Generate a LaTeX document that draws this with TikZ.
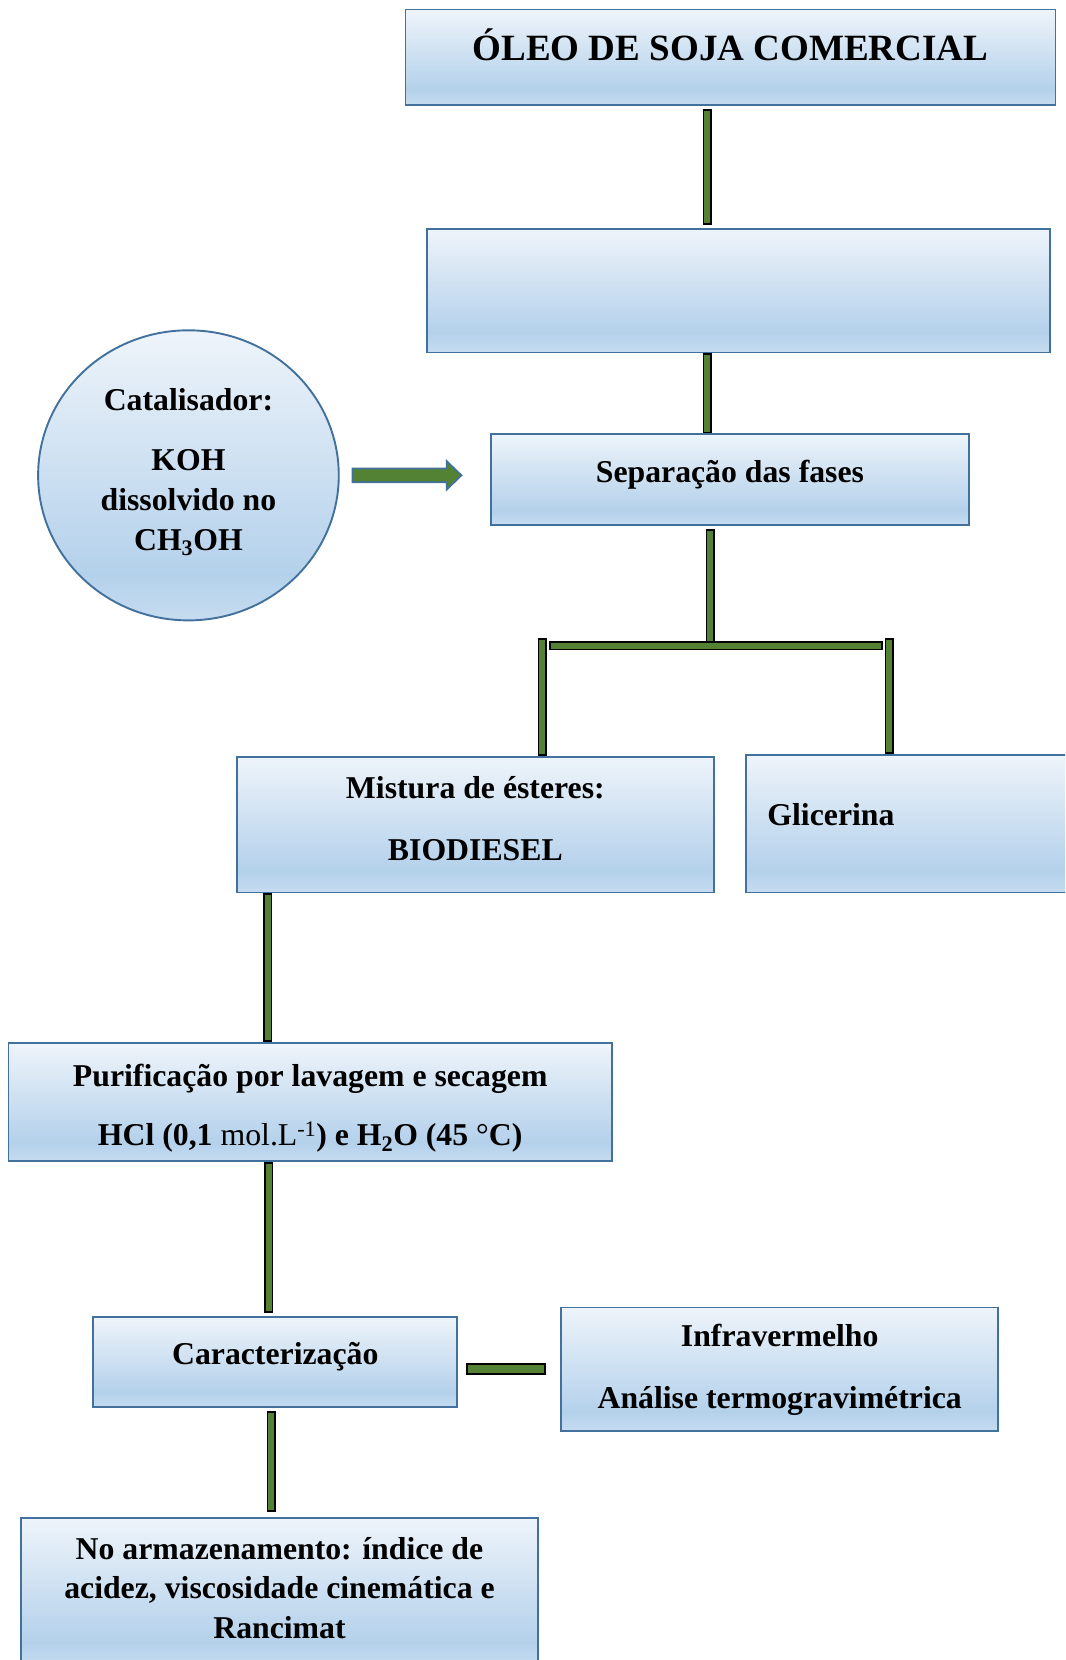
\documentclass[tikz,border=0pt]{standalone}
\usepackage{fontspec}
\setmainfont{Liberation Serif}
\usepackage{tikz}
\usetikzlibrary{shapes.geometric,calc}
\definecolor{flowtop}{HTML}{EEF4FA}
\definecolor{flowmid}{HTML}{B4D1EB}
\definecolor{flowlow}{HTML}{C6DCF0}
\definecolor{flowedge}{HTML}{41719C}
\definecolor{flowgreen}{HTML}{548235}
\pgfdeclareverticalshading{flowshade}{100bp}{color(0bp)=(flowlow); color(25bp)=(flowlow); color(33bp)=(flowmid); color(75bp)=(flowtop); color(100bp)=(flowtop)}
\tikzstyle{greenbar} = [draw=black, line width=1.5pt, double=flowgreen, double distance=5.5pt, line cap=rect]
\tikzstyle{widebar} = [draw=black, line width=2pt, double=flowgreen, double distance=8pt, line cap=rect]
\tikzstyle{fatarrow} = [draw=flowedge, line width=1.6pt, fill=flowgreen, line join=miter]

\begin{document}
\begin{tikzpicture}[x=1pt, y=-1pt,
  stepbox/.style={rectangle, draw=flowedge, line width=1.8pt, shade, shading=flowshade, align=center, inner sep=0pt, font=\bfseries\fontsize{30}{37.5}\selectfont}]
\useasboundingbox (0,0) rectangle (1006,1568);
\clip (0,0) rectangle (1006,1568);

\node[stepbox, minimum width=614pt, minimum height=90pt, text depth=23pt, font=\bfseries\fontsize{35}{40}\selectfont] (oleo) at (690,54) {ÓLEO DE SOJA COMERCIAL};
\node[stepbox, minimum width=589pt, minimum height=117pt] (reac) at (697.5,274.5) {};
\node[stepbox, minimum width=451pt, minimum height=86pt, text depth=16.5pt] (sep) at (689.5,453) {Separação das fases};
\node[stepbox, ellipse, minimum width=284pt, minimum height=274pt, text depth=11pt] (cat) at (178,449) {Catalisador:\\[19pt] KOH\\ dissolvido no\\ CH\textsubscript{3}OH};

\node[stepbox, minimum width=450pt, minimum height=128pt, text depth=12pt] (mist) at (449,779) {Mistura de ésteres:\\[21pt] BIODIESEL};
\node[stepbox, anchor=west, text width=320pt, align=left, inner xsep=20pt, minimum height=130pt, text depth=18pt] (glic) at (704,778) {Glicerina};

\node[stepbox, minimum width=570pt, minimum height=112pt, text height=89pt] (puri) at (293,1041) {Purificação por lavagem e secagem\\[19pt] HCl (0,1 {\mdseries mol.L\textsuperscript{-1}}) e H\textsubscript{2}O (45 {\mdseries °}C)};
\node[stepbox, minimum width=344pt, minimum height=85pt, text depth=15.5pt] (carac) at (260,1286.5) {Caracterização};
\node[stepbox, minimum width=413pt, minimum height=117pt] (infra) at (736.5,1293.5) {Infravermelho\\[21pt] Análise termogravimétrica};
\node[stepbox, anchor=north, minimum width=488pt, minimum height=140pt, text depth=8pt] (armaz) at (264,1433) {No armazenamento: índice de\\ acidez, viscosidade cinemática e\\ Rancimat};

% catalyst feed
\draw[fatarrow] ([xshift=12pt]cat.east) ++(0,-6.5) -- ++(89,0) -- ++(0,-7) -- ++(14,13.5) -- ++(-14,13.5) -- ++(0,-7) -- ++(-89,0) -- cycle;

% main line
\draw[greenbar, shorten <=7.25pt, shorten >=7.25pt] ([xshift=-22pt]oleo.south) -- ([xshift=-22pt]oleo.south |- reac.north);
\draw[greenbar, shorten <=4.25pt, shorten >=4.25pt] ([xshift=-29.5pt]reac.south) -- ([xshift=-29.5pt]reac.south |- sep.north);

% split into the two phases
\coordinate (fork) at (671,610);
\coordinate (forkL) at (512,610);
\coordinate (forkR) at (840,610);
\draw[greenbar, shorten <=7.25pt, shorten >=0pt] ([xshift=-18.5pt]sep.south) -- (fork);
\draw[greenbar, shorten <=11.25pt, shorten >=10.25pt] (forkL) -- (forkR);
\draw[greenbar, shorten >=4.25pt] ([yshift=2.75pt]forkL) -- (forkL |- mist.north);
\draw[greenbar, shorten >=4.25pt] ([yshift=2.75pt]forkR) -- (forkR |- glic.north);

% biodiesel branch
\draw[greenbar, shorten <=4.25pt, shorten >=4.25pt] ([xshift=-196pt]mist.south) -- ([xshift=-196pt]mist.south |- puri.north);
\draw[greenbar, shorten <=4.25pt, shorten >=7.25pt] ([xshift=-39pt]puri.south) -- ([xshift=-39pt]puri.south |- carac.north);
\draw[greenbar, shorten <=7.25pt, shorten >=9.25pt] ([xshift=-4pt]carac.south) -- ([xshift=-4pt]carac.south |- armaz.north);
\draw[widebar, shorten <=13pt, shorten >=19pt] ([yshift=-6.5pt]carac.east) -- ([yshift=-6.5pt]carac.east -| infra.west);
\end{tikzpicture}
\end{document}
